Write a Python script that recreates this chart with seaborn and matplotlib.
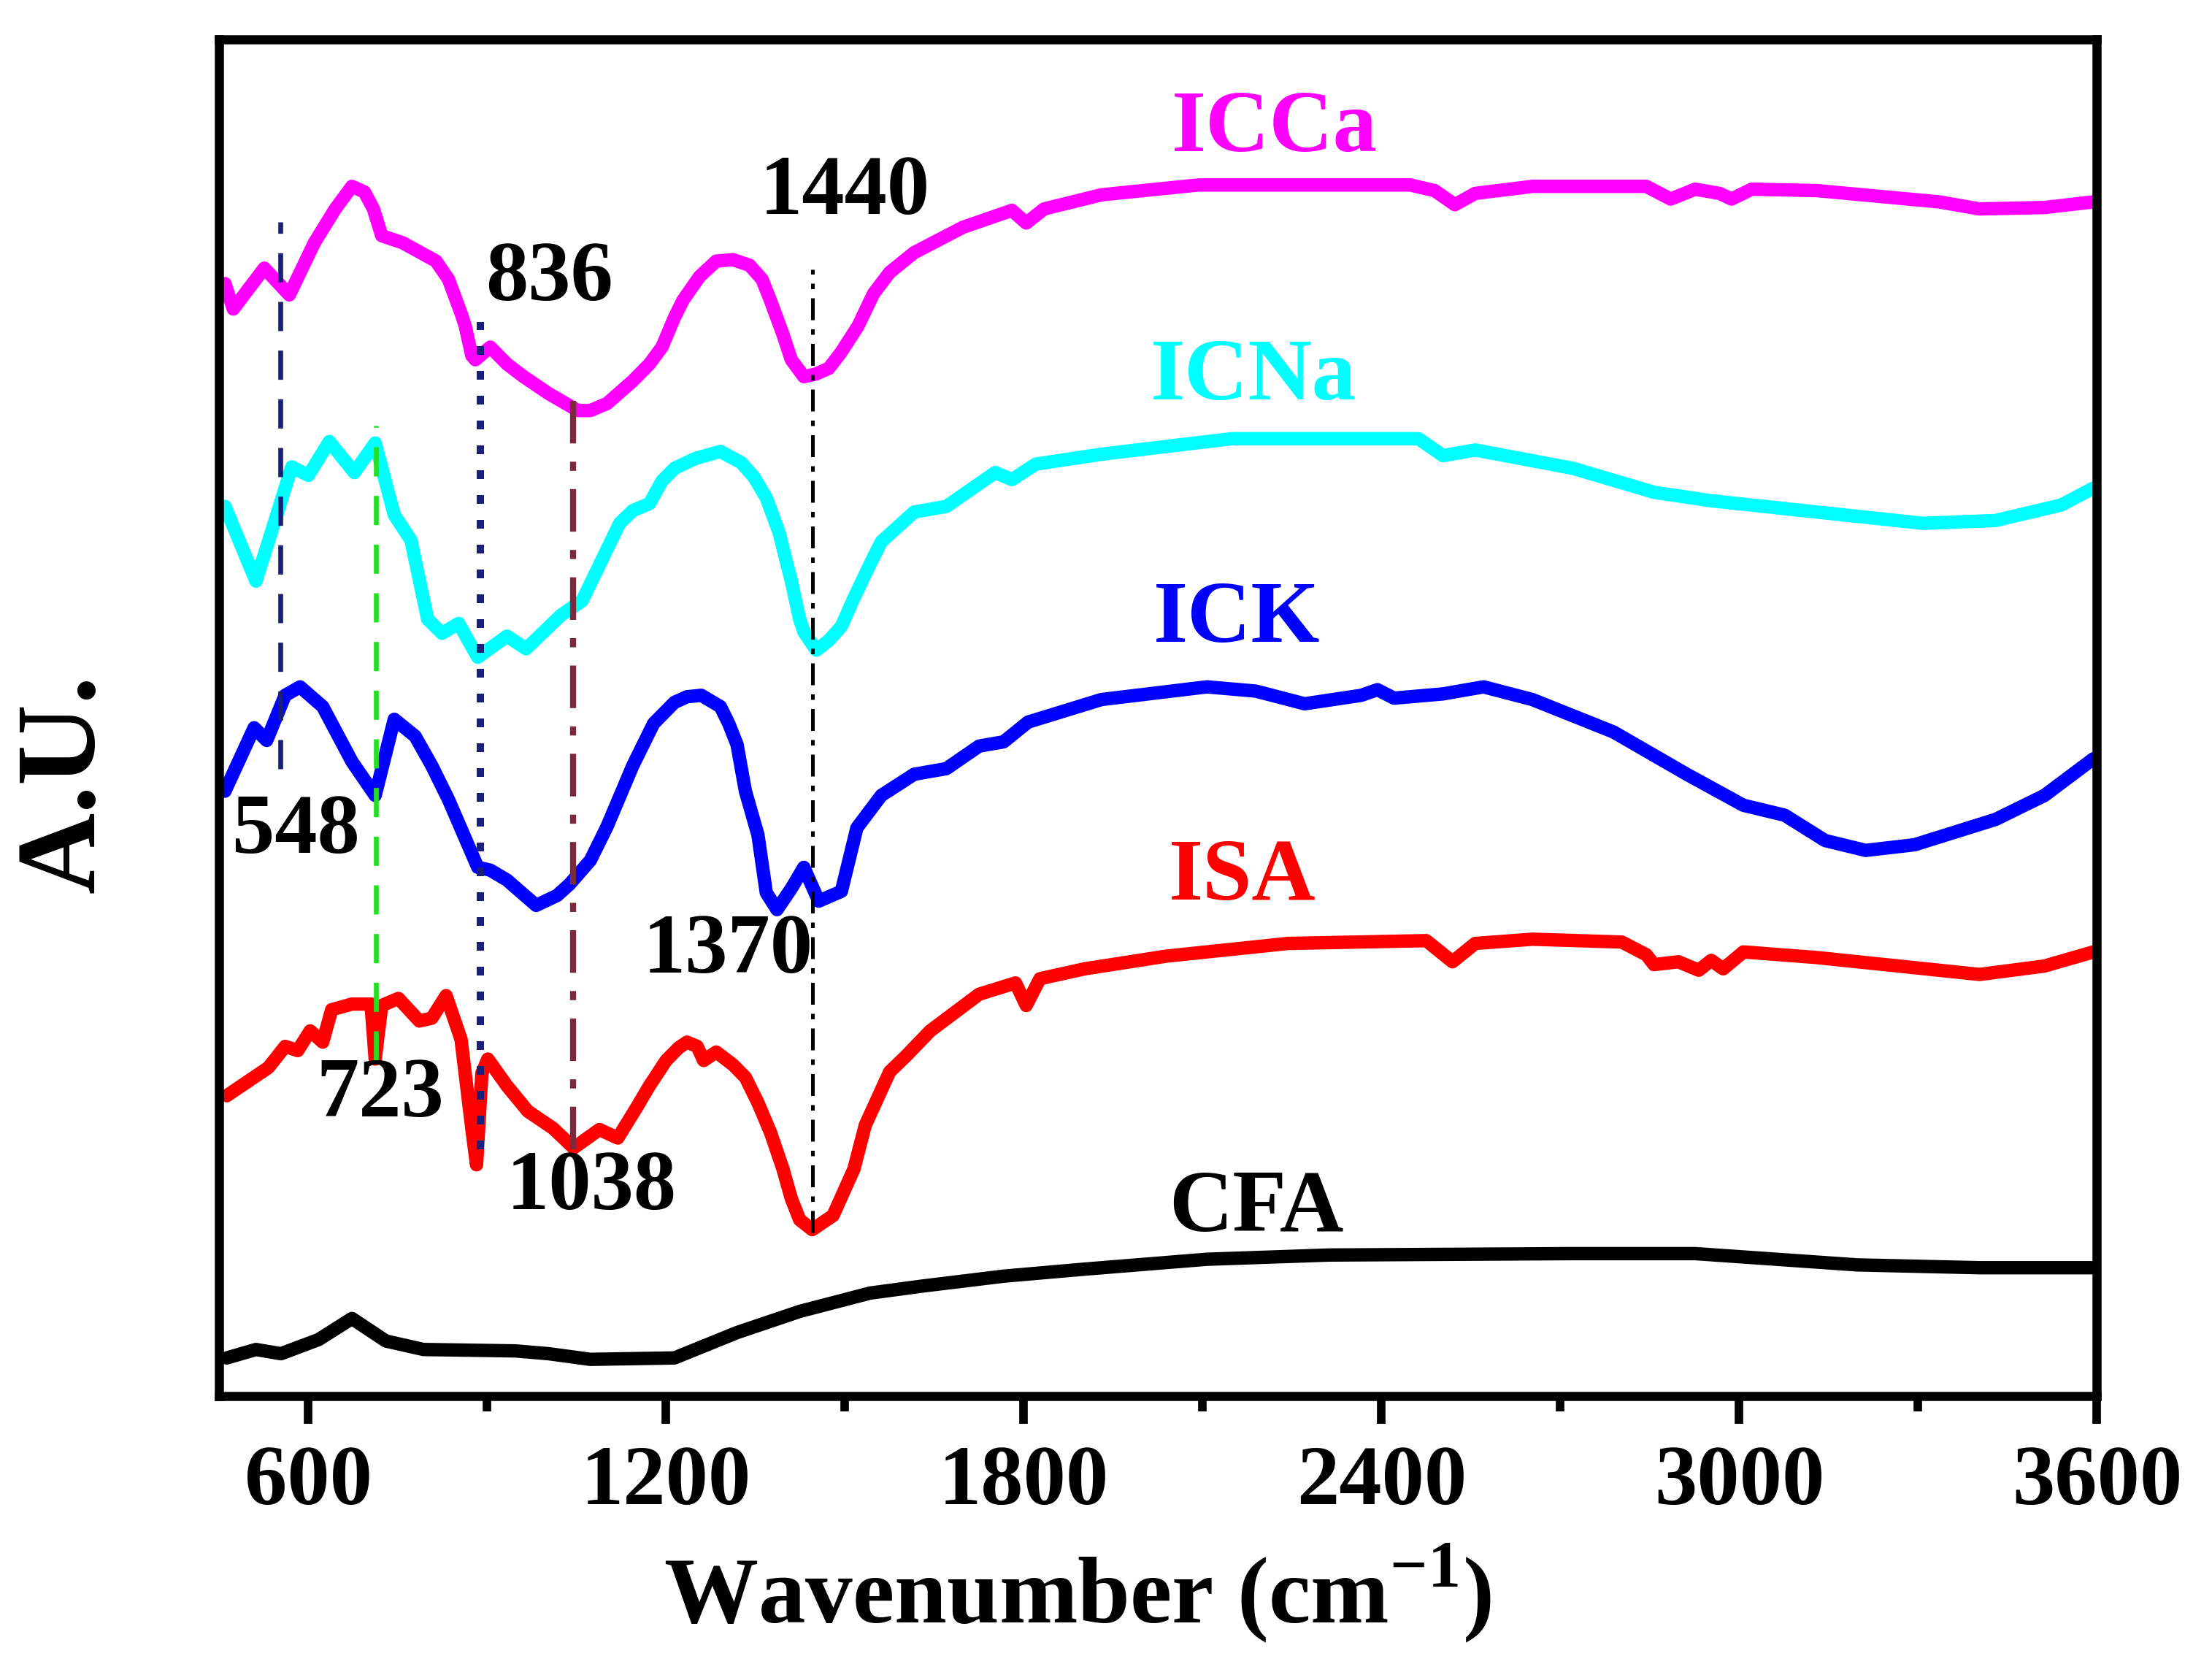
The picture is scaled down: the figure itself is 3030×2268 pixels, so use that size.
import matplotlib
matplotlib.use("Agg")
import matplotlib.pyplot as plt
import seaborn as sns
import pandas as pd

# FTIR spectra, values (arbitrary units, stacked)
icca_wn = [460, 474, 526, 568, 610, 645, 673, 694, 709, 723, 758, 814, 835, 856, 863, 874, 880, 905,
           933, 961, 1003, 1052, 1073, 1101, 1144, 1172, 1193, 1214, 1228, 1256, 1284, 1312, 1340,
           1361, 1375, 1396, 1410, 1431, 1452, 1473, 1493, 1522, 1548, 1575, 1616, 1698, 1780,
           1804, 1834, 1930, 2093, 2448, 2489, 2523, 2557, 2653, 2844, 2885, 2926, 2967, 2987,
           3021, 3130, 3335, 3403, 3512, 3594]
icca_y = [78.9, 77.1, 80.0, 78.1, 81.8, 84.2, 85.8, 85.4, 84.2, 82.3, 81.8, 80.5, 79.2, 76.8, 75.9, 73.8, 73.5, 74.4,
          73.2, 72.3, 71.1, 69.9, 69.9, 70.4, 72.0, 73.2, 74.4, 76.5, 77.7, 79.4, 80.5, 80.6, 80.2,
          79.2, 77.7, 75.3, 73.5, 72.3, 72.5, 72.9, 74.0, 75.9, 78.2, 79.7, 81.1, 82.9, 84.1,
          83.2, 84.2, 85.2, 85.9, 85.9, 85.5, 84.5, 85.3, 85.8, 85.8, 84.9, 85.6, 85.3, 84.9,
          85.6, 85.5, 84.7, 84.2, 84.3, 84.7]

icna_wn = [460, 512, 547, 572, 600, 635, 677, 712, 744, 772, 800, 824, 852, 884, 933, 965, 1024,
           1059, 1122, 1144, 1172, 1193, 1214, 1249, 1291, 1326, 1347, 1368, 1389, 1410, 1424, 1431,
           1452, 1473, 1494, 1515, 1542, 1561, 1616, 1670, 1752, 1780, 1820, 1930, 2148, 2462,
           2503, 2557, 2721, 2857, 2953, 3130, 3308, 3430, 3540, 3594]
icna_y = [63.1, 57.8, 62.5, 65.9, 65.3, 67.7, 65.5, 67.6, 62.5, 60.7, 55.1, 54.1, 54.8, 52.4, 53.9, 53.0, 55.4,
          56.4, 61.9, 62.8, 63.3, 64.9, 65.8, 66.5, 67.0, 66.2, 65.2, 63.7, 61.3, 57.8, 55.1, 54.2,
          52.9, 53.6, 54.6, 56.6, 59.0, 60.6, 62.7, 63.1, 65.5, 65.0, 66.1, 66.8, 67.9, 67.9,
          66.7, 67.1, 65.8, 64.1, 63.5, 62.7, 61.9, 62.1, 63.2, 64.4]

ick_wn = [460, 509, 530, 561, 586, 624, 673, 712, 744, 779, 807, 835, 884, 905, 933, 982, 1017, 1038,
          1073, 1101, 1122, 1144, 1179, 1214, 1235, 1259, 1291, 1305, 1319, 1333, 1354, 1368, 1386,
          1410, 1431, 1456, 1494, 1520, 1561, 1616, 1670, 1725, 1766, 1807, 1930, 2107, 2189,
          2271, 2366, 2393, 2421, 2503, 2571, 2653, 2789, 2912, 3007, 3076, 3144, 3212, 3294,
          3430, 3512, 3594]
ick_y = [42.9, 47.4, 46.5, 49.7, 50.3, 48.9, 45.0, 42.6, 48.0, 46.8, 44.7, 42.3, 37.5, 37.3, 36.6, 34.8, 35.5, 36.3,
         38.0, 40.4, 42.5, 44.7, 47.7, 49.2, 49.6, 49.7, 48.9, 47.7, 46.2, 42.9, 39.8, 35.7, 34.5,
         36.0, 37.5, 35.1, 35.8, 40.3, 42.6, 44.1, 44.5, 46.1, 46.4, 47.8, 49.4, 50.3, 50.0,
         49.1, 49.7, 50.1, 49.5, 49.8, 50.3, 49.4, 47.1, 44.1, 41.9, 41.2, 39.4, 38.7, 39.1,
         40.9, 42.6, 45.2]

isa_wn = [463, 498, 533, 561, 582, 603, 624, 639, 673, 705, 712, 723, 751, 786, 807, 831, 856,
          874, 882, 891, 901, 933, 968, 1010, 1045, 1088, 1119, 1151, 1172, 1200, 1221, 1235, 1252,
          1263, 1284, 1312, 1333, 1354, 1375, 1396, 1410, 1424, 1445, 1480, 1515, 1534, 1575,
          1602, 1643, 1725, 1786, 1804, 1827, 1902, 2039, 2243, 2475, 2519, 2557, 2653, 2803,
          2844, 2857, 2898, 2932, 2953, 2973, 3007, 3130, 3267, 3403, 3512, 3594]
isa_y = [21.3, 22.3, 23.3, 24.8, 24.5, 25.9, 25.1, 27.4, 27.8, 27.8, 23.9, 27.7, 28.2, 26.6, 26.8, 28.4, 25.3,
         19.0, 16.4, 22.9, 23.9, 22.0, 20.2, 19.0, 17.6, 18.9, 18.3, 20.5, 22.0, 23.8, 24.7, 25.1, 24.8,
         23.8, 24.4, 23.5, 22.6, 20.8, 18.7, 16.1, 14.0, 12.5, 11.8, 12.8, 16.1, 19.2, 23.0,
         24.1, 25.9, 28.5, 29.3, 27.7, 29.6, 30.3, 31.2, 32.1, 32.3, 30.8, 32.1, 32.4, 32.2,
         31.3, 30.6, 30.8, 30.2, 30.9, 30.3, 31.5, 31.1, 30.5, 29.9, 30.5, 31.5]

cfa_wn = [463, 512, 554, 617, 673, 730, 793, 947, 1003, 1073, 1214, 1319, 1424, 1542, 1630, 1766,
          1902, 2107, 2312, 2721, 2926, 3062, 3198, 3403, 3594]
cfa_y = [2.7, 3.3, 3.0, 4.0, 5.5, 3.9, 3.3, 3.2, 3.0, 2.6, 2.7, 4.5, 6.0, 7.3, 7.8, 8.5,
         9.0, 9.7, 10.0, 10.1, 10.1, 9.7, 9.3, 9.1, 9.1]

series_names = ["ICCa", "ICNa", "ICK", "ISA", "CFA"]
series_colors = ["#ff00ff", "#00ffff", "#0000ff", "#ff0000", "#000000"]
series_wn = [icca_wn, icna_wn, ick_wn, isa_wn, cfa_wn]
series_y = [icca_y, icna_y, ick_y, isa_y, cfa_y]
name_pos = [(2220, 89.8), (2185, 72.2), (2157, 55.0), (2166, 36.7), (2190, 13.2)]

# band marker lines: position, y from, y to, colour, style
marker_wn = [553, 713, 888, 1044, 1446]
marker_lo = [44.5, 23.8, 17.5, 17.5, 11.6]
marker_hi = [83.3, 68.8, 76.2, 70.8, 79.9]
marker_col = ["#1a1f7a", "#22e022", "#1a1f7a", "#7a2a3a", "#000000"]
marker_ls = [(0, (6, 4)), (0, (6, 4)), (0, (1.2, 2.2)), (0, (7, 3, 1.5, 3)), (0, (6, 2.5, 1.5, 2.5))]
marker_lw = [1.6, 1.6, 2.4, 2.0, 1.2]

band_text = ["1440", "836", "548", "1370", "723", "1038"]
band_pos = [(1500, 85.3), (1004, 79.2), (579, 40.0), (1304, 31.5), (720, 21.3), (1075, 14.7)]

sns.set_theme(style="white")
plt.rcParams['font.family'] = ['Liberation Serif', 'DejaVu Serif']
plt.rcParams['font.weight'] = 'bold'
plt.rcParams['text.color'] = 'black'
plt.rcParams['axes.labelcolor'] = 'black'
plt.rcParams['xtick.color'] = 'black'
plt.rcParams['mathtext.fontset'] = 'custom'
plt.rcParams['mathtext.rm'] = 'Liberation Serif:bold'
plt.rcParams['mathtext.bf'] = 'Liberation Serif:bold'

fig = plt.figure(figsize=(10.1, 7.56), dpi=300)
ax = fig.add_axes([0.099, 0.157, 0.849, 0.819])

for name, col, wn, yy in zip(series_names, series_colors, series_wn, series_y):
    df = pd.DataFrame({"wn": wn, "y": yy})
    sns.lineplot(data=df, x="wn", y="y", color=col, lw=4.4, ax=ax, estimator=None,
                 solid_joinstyle="round", solid_capstyle="round")

for wn, lo, hi, col, ls, lw in zip(marker_wn, marker_lo, marker_hi, marker_col, marker_ls, marker_lw):
    ax.plot([wn, wn], [lo, hi], color=col, ls=ls, lw=lw, zorder=3)

for name, col, (px, py) in zip(series_names, series_colors, name_pos):
    ax.text(px, py, name, color=col, fontsize=29, fontweight='bold', ha='center', va='center')

for t, (px, py) in zip(band_text, band_pos):
    ax.text(px, py, t, color='black', fontsize=28, fontweight='bold', ha='center', va='center')

ax.set_xlim(450, 3600)
ax.set_ylim(0, 96.2)
ax.set_xticks([600, 1200, 1800, 2400, 3000, 3600])
ax.set_xticks(range(900, 3600, 600), minor=True)
ax.set_yticks([])
ax.tick_params(axis='x', which='major', direction='out', length=9, width=2.8,
               labelsize=28, pad=7, bottom=True, colors='black')
ax.tick_params(axis='x', which='minor', direction='out', length=5, width=2.8, bottom=True)
for lab in ax.get_xticklabels():
    lab.set_fontweight('bold')
for sp in ax.spines.values():
    sp.set_linewidth(3.0)
    sp.set_color('black')

ax.set_xlabel("")
ax.set_ylabel("")
fig.text(0.487, 0.038, "Wavenumber (cm$^{-1}$)", fontsize=31, fontweight='bold',
         ha='center', va='center', color='black')
fig.text(0.030, 0.527, "A.U.", fontsize=37, fontweight='bold', rotation=90,
         ha='center', va='center', color='black')

fig.savefig("out.png", dpi=300, facecolor='white')
